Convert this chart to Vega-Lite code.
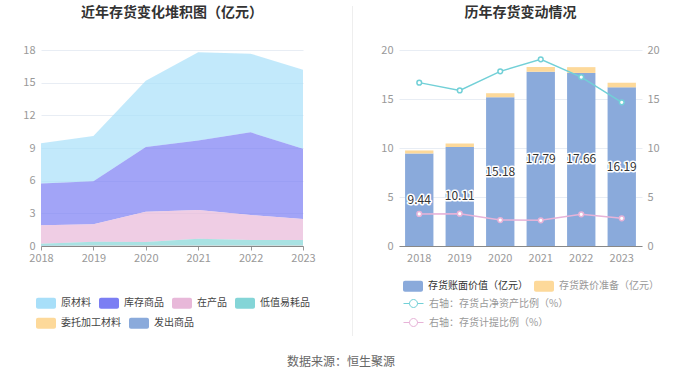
{
  "$schema": "https://vega.github.io/schema/vega-lite/v6.json",
  "background": "white",
  "padding": {"left": 22, "top": 5, "right": 5, "bottom": 0},
  "config": {
    "font": "Noto Sans CJK SC",
    "view": {"stroke": null},
    "axis": {"labelColor": "#999999", "labelFontSize": 11, "gridColor": "#e8edf4", "domainColor": "#999999", "tickColor": "#999999", "labelFont": "Noto Sans CJK SC"},
    "legend": {"labelFont": "Noto Sans CJK SC"}
  },
  "datasets": {
    "stack": [
      {"year": "2018", "cat": "原材料", "ord": 6, "value": 3.69},
      {"year": "2019", "cat": "原材料", "ord": 6, "value": 4.17},
      {"year": "2020", "cat": "原材料", "ord": 6, "value": 6.09},
      {"year": "2021", "cat": "原材料", "ord": 6, "value": 8.09},
      {"year": "2022", "cat": "原材料", "ord": 6, "value": 7.22},
      {"year": "2023", "cat": "原材料", "ord": 6, "value": 7.25},
      {"year": "2018", "cat": "库存商品", "ord": 5, "value": 3.85},
      {"year": "2019", "cat": "库存商品", "ord": 5, "value": 3.95},
      {"year": "2020", "cat": "库存商品", "ord": 5, "value": 5.94},
      {"year": "2021", "cat": "库存商品", "ord": 5, "value": 6.39},
      {"year": "2022", "cat": "库存商品", "ord": 5, "value": 7.59},
      {"year": "2023", "cat": "库存商品", "ord": 5, "value": 6.46},
      {"year": "2018", "cat": "在产品", "ord": 4, "value": 1.69},
      {"year": "2019", "cat": "在产品", "ord": 4, "value": 1.59},
      {"year": "2020", "cat": "在产品", "ord": 4, "value": 2.78},
      {"year": "2021", "cat": "在产品", "ord": 4, "value": 2.64},
      {"year": "2022", "cat": "在产品", "ord": 4, "value": 2.30},
      {"year": "2023", "cat": "在产品", "ord": 4, "value": 1.93},
      {"year": "2018", "cat": "低值易耗品", "ord": 3, "value": 0.18},
      {"year": "2019", "cat": "低值易耗品", "ord": 3, "value": 0.36},
      {"year": "2020", "cat": "低值易耗品", "ord": 3, "value": 0.33},
      {"year": "2021", "cat": "低值易耗品", "ord": 3, "value": 0.62},
      {"year": "2022", "cat": "低值易耗品", "ord": 3, "value": 0.50},
      {"year": "2023", "cat": "低值易耗品", "ord": 3, "value": 0.50},
      {"year": "2018", "cat": "委托加工材料", "ord": 2, "value": 0.01},
      {"year": "2019", "cat": "委托加工材料", "ord": 2, "value": 0.02},
      {"year": "2020", "cat": "委托加工材料", "ord": 2, "value": 0.02},
      {"year": "2021", "cat": "委托加工材料", "ord": 2, "value": 0.03},
      {"year": "2022", "cat": "委托加工材料", "ord": 2, "value": 0.03},
      {"year": "2023", "cat": "委托加工材料", "ord": 2, "value": 0.03},
      {"year": "2018", "cat": "发出商品", "ord": 1, "value": 0.02},
      {"year": "2019", "cat": "发出商品", "ord": 1, "value": 0.02},
      {"year": "2020", "cat": "发出商品", "ord": 1, "value": 0.02},
      {"year": "2021", "cat": "发出商品", "ord": 1, "value": 0.02},
      {"year": "2022", "cat": "发出商品", "ord": 1, "value": 0.02},
      {"year": "2023", "cat": "发出商品", "ord": 1, "value": 0.02}
    ],
    "bars": [
      {"year": "2018", "type": "存货账面价值（亿元）", "ord": 1, "value": 9.44},
      {"year": "2019", "type": "存货账面价值（亿元）", "ord": 1, "value": 10.11},
      {"year": "2020", "type": "存货账面价值（亿元）", "ord": 1, "value": 15.18},
      {"year": "2021", "type": "存货账面价值（亿元）", "ord": 1, "value": 17.79},
      {"year": "2022", "type": "存货账面价值（亿元）", "ord": 1, "value": 17.66},
      {"year": "2023", "type": "存货账面价值（亿元）", "ord": 1, "value": 16.19},
      {"year": "2018", "type": "存货跌价准备（亿元）", "ord": 2, "value": 0.31},
      {"year": "2019", "type": "存货跌价准备（亿元）", "ord": 2, "value": 0.34},
      {"year": "2020", "type": "存货跌价准备（亿元）", "ord": 2, "value": 0.41},
      {"year": "2021", "type": "存货跌价准备（亿元）", "ord": 2, "value": 0.47},
      {"year": "2022", "type": "存货跌价准备（亿元）", "ord": 2, "value": 0.59},
      {"year": "2023", "type": "存货跌价准备（亿元）", "ord": 2, "value": 0.47}
    ],
    "lines": [
      {"year": "2018", "metric": "右轴：存货占净资产比例（%）", "value": 16.67},
      {"year": "2019", "metric": "右轴：存货占净资产比例（%）", "value": 15.88},
      {"year": "2020", "metric": "右轴：存货占净资产比例（%）", "value": 17.82},
      {"year": "2021", "metric": "右轴：存货占净资产比例（%）", "value": 19.05},
      {"year": "2022", "metric": "右轴：存货占净资产比例（%）", "value": 17.24},
      {"year": "2023", "metric": "右轴：存货占净资产比例（%）", "value": 14.66},
      {"year": "2018", "metric": "右轴：存货计提比例（%）", "value": 3.27},
      {"year": "2019", "metric": "右轴：存货计提比例（%）", "value": 3.30},
      {"year": "2020", "metric": "右轴：存货计提比例（%）", "value": 2.65},
      {"year": "2021", "metric": "右轴：存货计提比例（%）", "value": 2.62},
      {"year": "2022", "metric": "右轴：存货计提比例（%）", "value": 3.23},
      {"year": "2023", "metric": "右轴：存货计提比例（%）", "value": 2.82}
    ]
  },
  "title": {"text": "数据来源：恒生聚源", "orient": "bottom", "anchor": "middle", "fontSize": 12, "fontWeight": "normal", "color": "#666666", "offset": 20},
  "spacing": 27,
  "hconcat": [
    {
      "spacing": 36,
      "hconcat": [
        {
          "width": 262,
          "height": 196,
          "title": {"text": "近年存货变化堆积图（亿元）", "fontSize": 14, "fontWeight": "bold", "color": "#333333", "anchor": "middle", "offset": 24},
          "data": {"name": "stack"},
          "encoding": {
            "x": {"field": "year", "type": "ordinal", "scale": {"type": "point", "padding": 0}, "axis": {"title": null, "labelAngle": 0, "tickSize": 4, "labelPadding": 2, "domainColor": "#888888", "grid": false}},
            "y": {"field": "value", "type": "quantitative", "stack": "zero", "scale": {"domain": [0, 18], "nice": false}, "axis": {"title": null, "values": [0, 3, 6, 9, 12, 15, 18], "domain": false, "ticks": false, "labelPadding": 6}},
            "order": {"field": "ord", "type": "quantitative"}
          },
          "layer": [
            {
              "mark": {"type": "area", "opacity": 0.7},
              "encoding": {
                "color": {
                  "field": "cat", "type": "nominal",
                  "scale": {"domain": ["原材料", "库存商品", "在产品", "低值易耗品", "委托加工材料", "发出商品"], "range": ["#a8dff9", "#7b7ef3", "#e8b8d9", "#84d5d7", "#fdd99a", "#8aaadb"]},
                  "legend": {"title": null, "values": ["原材料", "库存商品", "在产品", "低值易耗品"], "orient": "none", "direction": "horizontal", "legendX": -5, "legendY": 243, "columns": 4, "columnPadding": 8, "symbolType": "M-0.8,-0.55 L0.8,-0.55 A0.2,0.2 0 0 1 1,-0.35 L1,0.35 A0.2,0.2 0 0 1 0.8,0.55 L-0.8,0.55 A0.2,0.2 0 0 1 -1,0.35 L-1,-0.35 A0.2,0.2 0 0 1 -0.8,-0.55 Z", "symbolSize": 400, "symbolOpacity": 1, "symbolStrokeWidth": 0, "labelFontSize": 10, "labelColor": "#444444", "labelOffset": 5}
                }
              }
            },
            {
              "transform": [{"filter": "datum.ord <= 2"}],
              "mark": {"type": "area", "opacity": 0},
              "encoding": {
                "fill": {
                  "field": "cat", "type": "nominal",
                  "scale": {"domain": ["委托加工材料", "发出商品"], "range": ["#fdd99a", "#8aaadb"]},
                  "legend": {"title": null, "orient": "none", "direction": "horizontal", "legendX": -5, "legendY": 263, "columns": 2, "columnPadding": 8, "symbolType": "M-0.8,-0.55 L0.8,-0.55 A0.2,0.2 0 0 1 1,-0.35 L1,0.35 A0.2,0.2 0 0 1 0.8,0.55 L-0.8,0.55 A0.2,0.2 0 0 1 -1,0.35 L-1,-0.35 A0.2,0.2 0 0 1 -0.8,-0.55 Z", "symbolSize": 400, "symbolOpacity": 1, "symbolStrokeWidth": 0, "labelFontSize": 10, "labelColor": "#444444", "labelOffset": 5}
                }
              }
            }
          ]
        },
        {
          "width": 1,
          "height": 286,
          "data": {"values": [{"a": 0, "b": 1.154}]},
          "mark": {"type": "rule", "color": "#eeeeee", "strokeWidth": 1},
          "encoding": {
            "y": {"field": "a", "type": "quantitative", "scale": {"domain": [0, 1]}, "axis": null},
            "y2": {"field": "b"}
          }
        }
      ]
    },
    {
      "width": 243,
      "height": 196,
      "title": {"text": "历年存货变动情况", "fontSize": 14, "fontWeight": "bold", "color": "#333333", "anchor": "middle", "offset": 24},
      "layer": [
        {
          "data": {"name": "bars"},
          "mark": {"type": "bar"},
          "encoding": {
            "x": {"field": "year", "type": "ordinal", "scale": {"paddingInner": 0.3, "paddingOuter": 0.15}, "axis": {"title": null, "labelAngle": 0, "ticks": false, "labelPadding": 6, "domainColor": "#888888"}},
            "y": {"field": "value", "type": "quantitative", "stack": "zero", "scale": {"domain": [0, 20], "nice": false}, "axis": {"title": null, "values": [0, 5, 10, 15, 20], "domain": false, "ticks": false, "labelPadding": 6}},
            "color": {
              "field": "type", "type": "nominal",
              "scale": {"domain": ["存货账面价值（亿元）", "存货跌价准备（亿元）"], "range": ["#8aaadb", "#fdd99a"]},
              "legend": {"title": null, "orient": "none", "direction": "horizontal", "legendX": 4, "legendY": 226, "columns": 2, "columnPadding": 6, "symbolType": "M-0.8,-0.55 L0.8,-0.55 A0.2,0.2 0 0 1 1,-0.35 L1,0.35 A0.2,0.2 0 0 1 0.8,0.55 L-0.8,0.55 A0.2,0.2 0 0 1 -1,0.35 L-1,-0.35 A0.2,0.2 0 0 1 -0.8,-0.55 Z", "symbolSize": 400, "symbolStrokeWidth": 0, "labelFontSize": 10, "labelOffset": 5, "labelColor": {"expr": "datum.label == '存货账面价值（亿元）' ? '#333333' : '#999999'"}}
            },
            "order": {"field": "ord", "type": "quantitative"}
          }
        },
        {
          "data": {"name": "bars"},
          "transform": [{"filter": "datum.ord == 1"}],
          "mark": {"type": "text", "fontSize": 12, "stroke": "white", "strokeWidth": 3, "strokeJoin": "round", "fill": "white"},
          "encoding": {
            "x": {"field": "year", "type": "ordinal"},
            "y": {"field": "value", "type": "quantitative", "scale": {"domain": [0, 40], "nice": false}, "axis": null},
            "text": {"field": "value", "type": "quantitative", "format": ".2f"}
          }
        },
        {
          "data": {"name": "bars"},
          "transform": [{"filter": "datum.ord == 1"}],
          "mark": {"type": "text", "fontSize": 12, "fill": "#333333"},
          "encoding": {
            "x": {"field": "year", "type": "ordinal"},
            "y": {"field": "value", "type": "quantitative", "scale": {"domain": [0, 40], "nice": false}, "axis": null},
            "text": {"field": "value", "type": "quantitative", "format": ".2f"}
          }
        },
        {
          "data": {"name": "lines"},
          "mark": {"type": "line", "strokeWidth": 1.5, "point": {"filled": false, "fill": "white", "size": 22, "strokeWidth": 1.5}},
          "encoding": {
            "x": {"field": "year", "type": "ordinal"},
            "y": {"field": "value", "type": "quantitative", "scale": {"domain": [0, 20], "nice": false}, "axis": {"title": null, "orient": "right", "values": [0, 5, 10, 15, 20], "domain": false, "ticks": false, "grid": false, "labelPadding": 5}},
            "stroke": {
              "field": "metric", "type": "nominal",
              "scale": {"domain": ["右轴：存货占净资产比例（%）", "右轴：存货计提比例（%）"], "range": ["#72d0d7", "#e7b3d8"]},
              "legend": {"title": null, "orient": "none", "direction": "vertical", "legendX": 4, "legendY": 243, "columns": 1, "rowPadding": 2, "symbolType": "M-1,0 L-0.4,0 M0.4,0 L1,0 M-0.4,0 A0.4,0.4 0 1 1 0.4,0 A0.4,0.4 0 1 1 -0.4,0", "symbolSize": 400, "symbolFillColor": "white", "symbolStrokeWidth": 1, "labelFontSize": 10, "labelOffset": 5, "labelColor": "#999999"}
            }
          }
        }
      ],
      "resolve": {"scale": {"y": "independent"}}
    }
  ],
  "resolve": {"scale": {"color": "independent", "stroke": "independent", "fill": "independent"}, "legend": {"color": "independent", "stroke": "independent", "fill": "independent"}}
}
